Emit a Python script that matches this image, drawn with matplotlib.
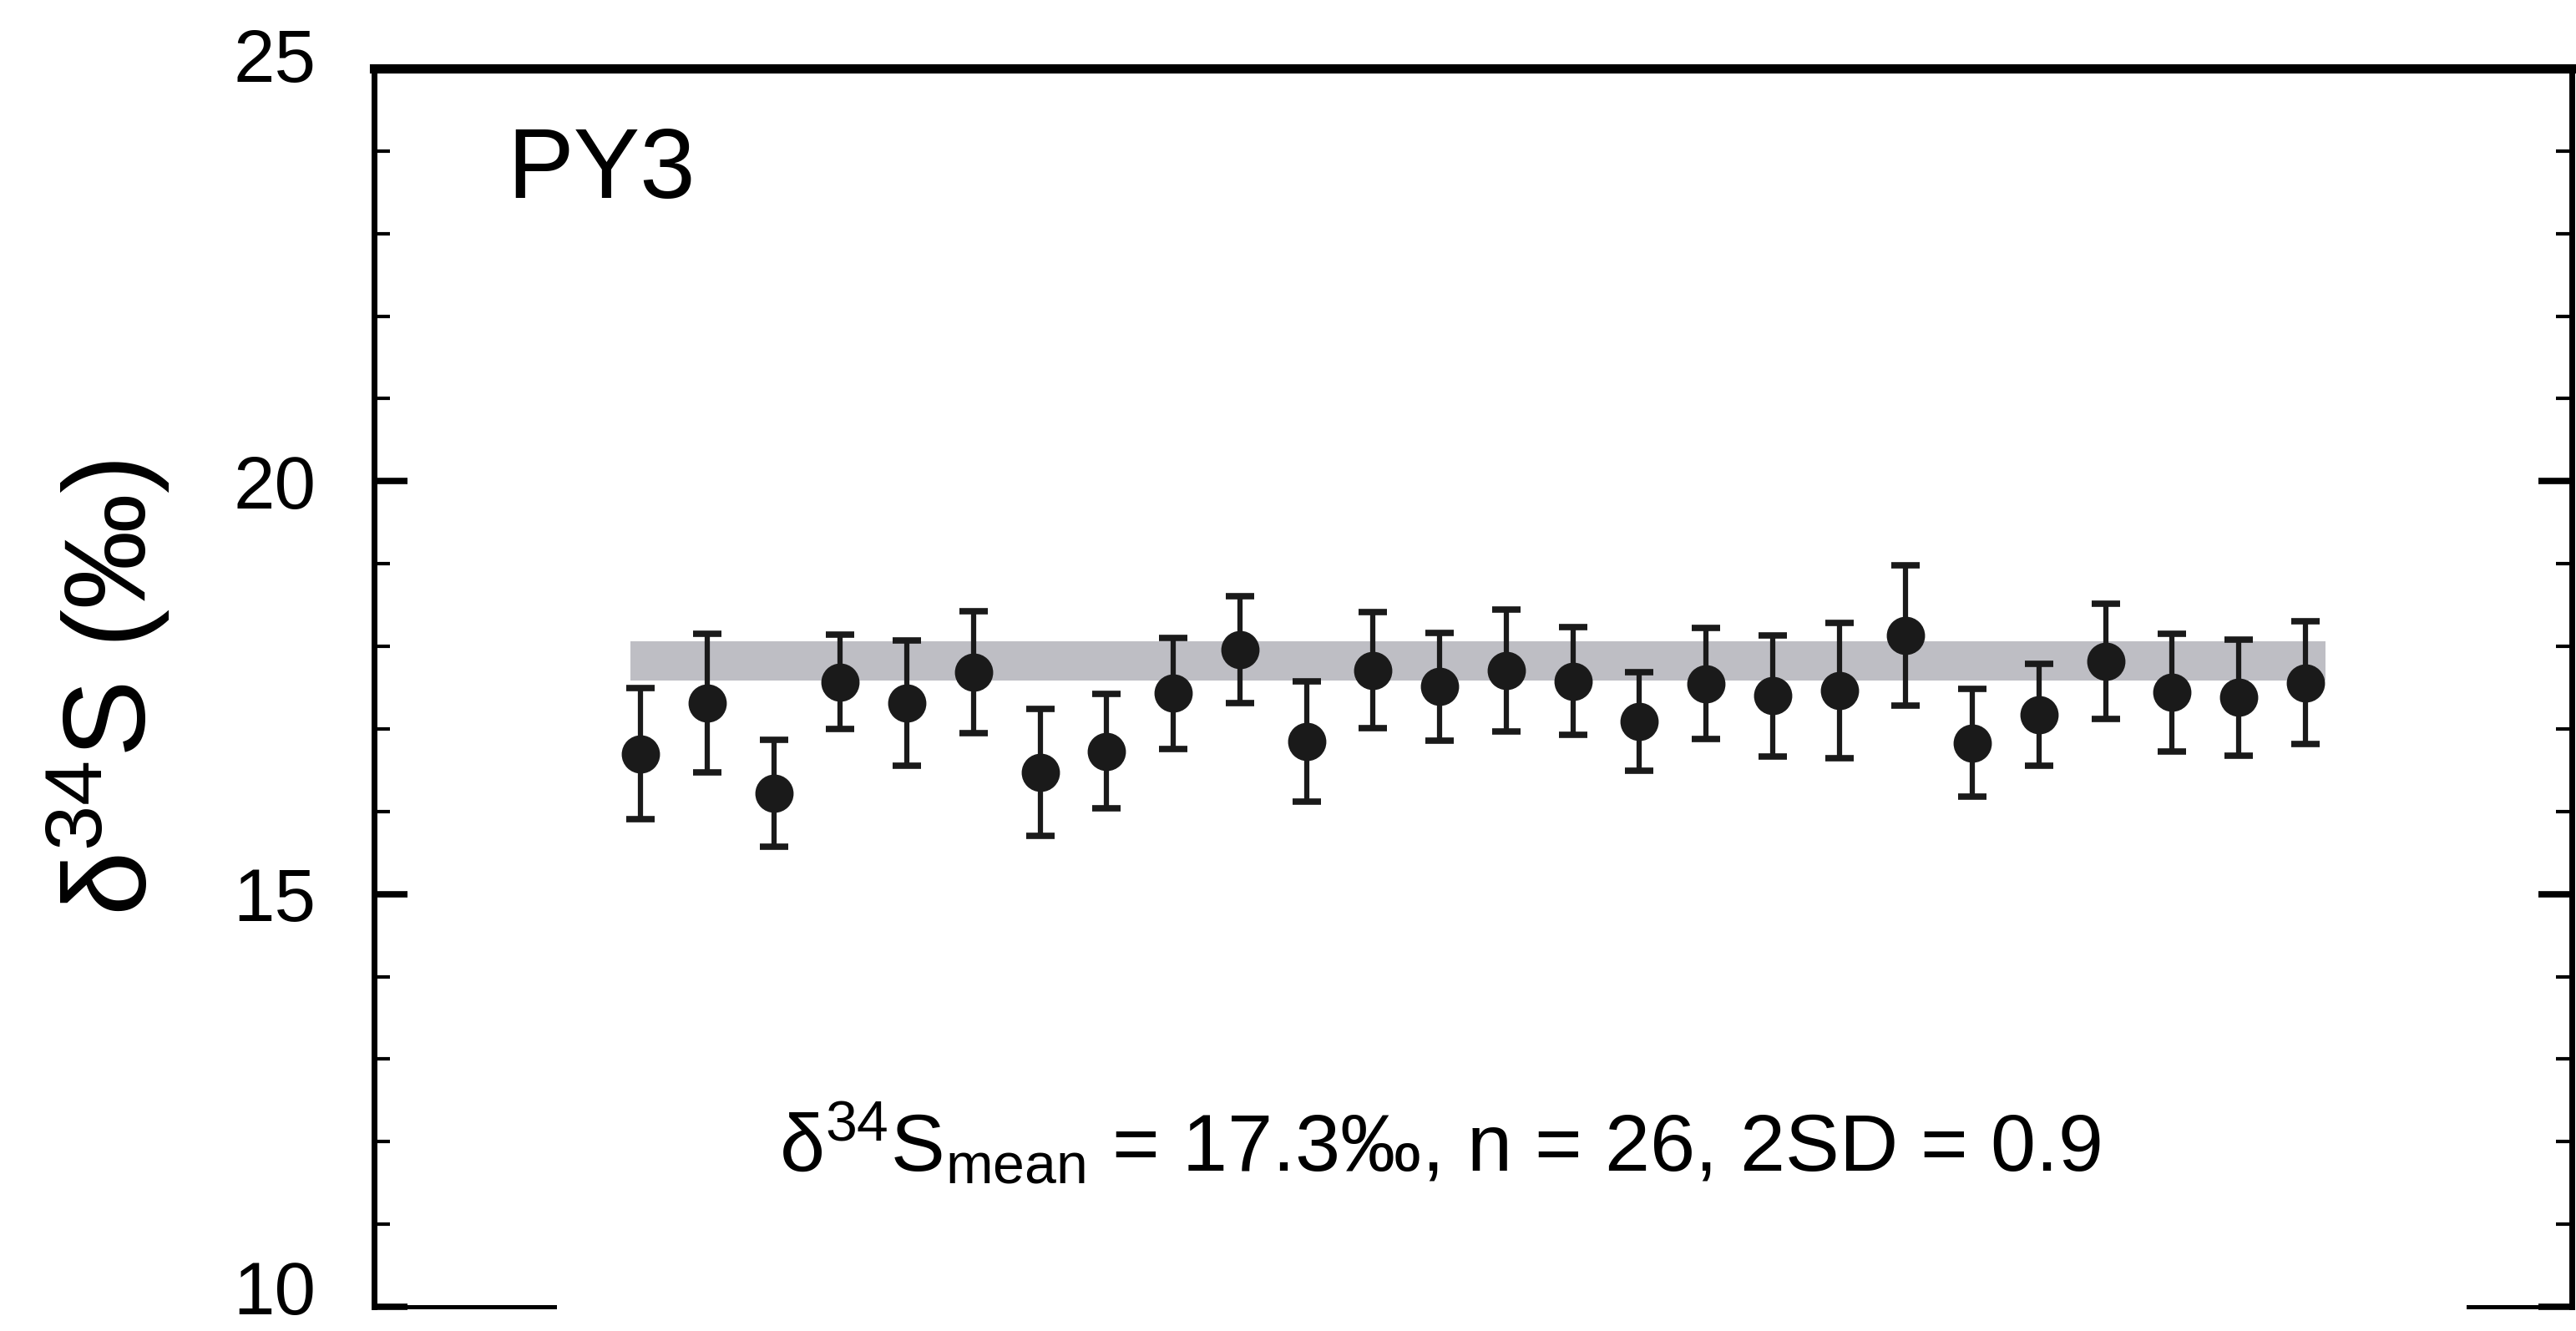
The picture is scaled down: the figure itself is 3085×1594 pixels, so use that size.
import numpy as np
import matplotlib
matplotlib.use("Agg")
import matplotlib.pyplot as plt
import matplotlib.transforms as mtransforms

plt.rcParams["font.family"] = ["Liberation Sans", "DejaVu Sans"]
plt.rcParams["mathtext.fontset"] = "custom"
plt.rcParams["mathtext.rm"] = "Liberation Sans"
plt.rcParams["mathtext.it"] = "Liberation Sans:italic"
plt.rcParams["mathtext.bf"] = "Liberation Sans:bold"

# Sample number and d34S values (permil) with 2SD error
sample_no = np.arange(1, 27)
d34s = [16.70, 17.31, 16.22, 17.57, 17.31, 17.69, 16.47, 16.73, 17.43, 17.96,
        16.85, 17.71, 17.51, 17.71, 17.58, 17.09, 17.55, 17.40, 17.46, 18.13,
        16.83, 17.17, 17.82, 17.44, 17.38, 17.56]
err_2sd = [0.79, 0.84, 0.65, 0.57, 0.76, 0.74, 0.77, 0.69, 0.67, 0.65,
           0.73, 0.70, 0.65, 0.74, 0.65, 0.60, 0.67, 0.73, 0.82, 0.85,
           0.65, 0.62, 0.70, 0.71, 0.70, 0.74]

# Grey reference band
band_x = [0.85, 26.3]
band_lo = 17.59
band_hi = 18.06

sample_name = "PY3"
summary = r"$\mathrm{\delta^{34}S_{mean}}$ = 17.3‰, n = 26, 2SD = 0.9"
ylabel = r"$\mathrm{\delta^{34}S}$ (‰)"
yticks = [10, 15, 20, 25]

fig = plt.figure(figsize=(30.85, 15.94), dpi=100)
ax = fig.add_axes([0.1452, 0.0182, 0.8532, 0.9304])

ax.fill_between(band_x, band_lo, band_hi, color="#bebec4", lw=0, zorder=1)
ax.errorbar(sample_no, d34s, yerr=err_2sd, fmt="o", color="#1a1a1a",
            markersize=32, elinewidth=4.5, capsize=12.5, capthick=5.5, zorder=3)

ax.set_xlim(-3, 30)
ax.set_ylim(10, 25)
ax.set_xticks([])
ax.set_yticks(yticks)
ax.set_yticks(np.arange(10, 26, 1), minor=True)
ax.tick_params(axis="y", which="major", direction="in", length=29, width=5.5,
               left=True, right=True, labelsize=64, pad=50)
ax.tick_params(axis="y", which="minor", direction="in", length=14, width=3,
               left=True, right=True)

# the end labels sit a little above their ticks
ticks = ax.yaxis.get_major_ticks()
for t, up in ((ticks[0], 17), (ticks[-1], 12)):
    lift = mtransforms.ScaledTranslation(0, up / 72, fig.dpi_scale_trans)
    t.label1.set_transform(t.label1.get_transform() + lift)

ax.spines["top"].set_linewidth(8)
ax.spines["left"].set_linewidth(5)
ax.spines["right"].set_linewidth(5)
ax.spines["bottom"].set_visible(False)
# bottom frame only drawn at the two ends
ax.axhline(10, xmin=0, xmax=0.082, color="black", lw=3.6, clip_on=False)
ax.axhline(10, xmin=0.953, xmax=1, color="black", lw=3.6, clip_on=False)

ax.set_ylabel(ylabel, fontsize=100)
ax.yaxis.set_label_coords(-0.092, 0.5)

ax.text(-1.0, 23.43, sample_name, fontsize=86, ha="left", va="baseline")
ax.text(13.0, 11.64, summary, fontsize=70, ha="center", va="baseline")

fig.savefig("out.png", dpi=100)
